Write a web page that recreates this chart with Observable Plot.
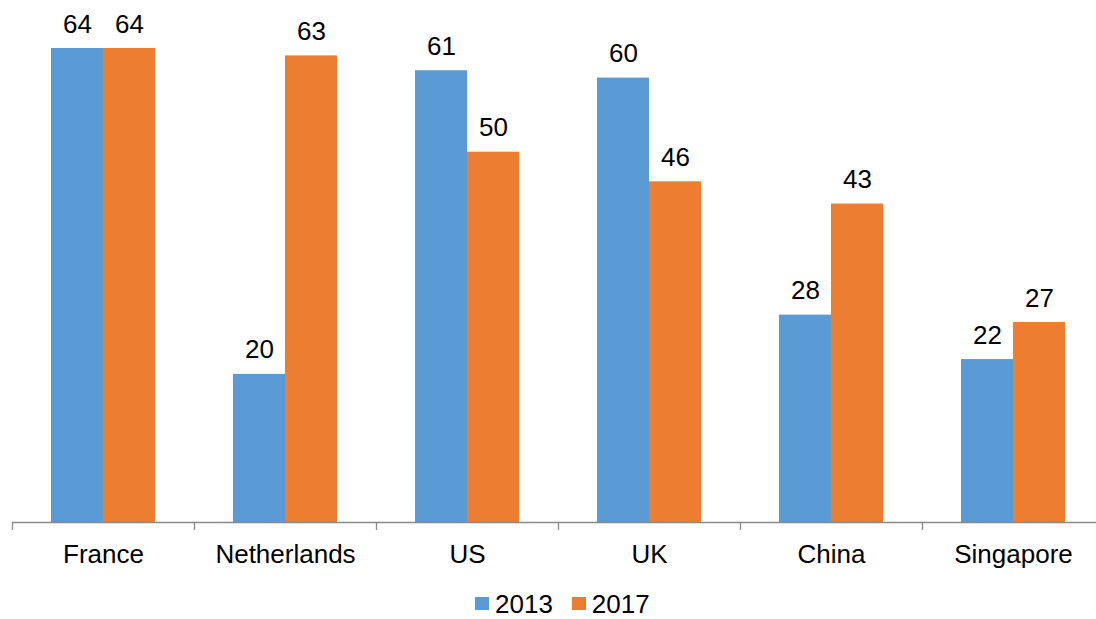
<!DOCTYPE html>
<html>
<head>
<meta charset="utf-8">
<script src="https://cdn.jsdelivr.net/npm/d3@7"></script>
<script src="https://cdn.jsdelivr.net/npm/@observablehq/plot@0.6"></script>
<style>
  html, body { margin: 0; padding: 0; background: #fff; overflow: hidden; }
  body { font-family: "Liberation Sans", Arial, sans-serif; }
  #legend { height: 39px; box-sizing: border-box; padding-top: 12.5px; padding-left: 475px;
            font-size: 26px; line-height: 22px; color: #000; white-space: nowrap; }
  .sw { display: inline-block; width: 14px; height: 13px; position: relative; top: -3px; margin-right: 6px; }
  .item { margin-right: 19px; }
</style>
</head>
<body>
<div id="chart"></div>
<div id="legend"></div>
<script>
const categories = ["France", "Netherlands", "US", "UK", "China", "Singapore"];
const series = ["2013", "2017"];
const values2013 = [64, 20, 61, 60, 28, 22];
const values2017 = [64, 63, 50, 46, 43, 27];
const colors = ["#5B9BD5", "#ED7D31"];

const d2013 = categories.map((c, i) => ({country: c, value: values2013[i]}));
const d2017 = categories.map((c, i) => ({country: c, value: values2017[i]}));

const font = "Liberation Sans, Arial, sans-serif";
const axisGray = "#898989";

const chart = Plot.plot({
  width: 1096,
  height: 580,
  marginLeft: 12,
  marginRight: 0,
  marginTop: 48,
  marginBottom: 58,
  style: {fontFamily: font, fontSize: "26px", color: "#000", background: "#fff", overflow: "visible"},
  x: {domain: categories, range: [12, 1104], padding: 0, axis: null},
  y: {domain: [0, 64], range: [522, 48], axis: null},
  marks: [
    Plot.barY(d2013, {x: "country", y: "value", fill: colors[0], insetLeft: 39, insetRight: 91}),
    Plot.barY(d2017, {x: "country", y: "value", fill: colors[1], insetLeft: 91, insetRight: 39}),
    Plot.text(d2013, {x: "country", y: "value", text: d => String(d.value), dx: -26, dy: -16, lineAnchor: "bottom", fontSize: 26, fill: "#000"}),
    Plot.text(d2017, {x: "country", y: "value", text: d => String(d.value), dx: 26, dy: -16, lineAnchor: "bottom", fontSize: 26, fill: "#000"}),
    Plot.ruleY([0], {stroke: axisGray, strokeWidth: 1.3}),
    Plot.ruleX(categories, {x: d => d, dx: -91, y1: 0, y2: -8 / 7.406, stroke: axisGray, strokeWidth: 1.3}),
    Plot.axisX({anchor: "bottom", tickSize: 0, tickPadding: 22.5, fontSize: 26, fill: "#000", label: null})
  ]
});
document.getElementById("chart").appendChild(chart);

const legend = document.getElementById("legend");
series.forEach((s, i) => {
  const item = document.createElement("span");
  item.className = "item";
  const sw = document.createElement("span");
  sw.className = "sw";
  sw.style.background = colors[i];
  item.appendChild(sw);
  item.appendChild(document.createTextNode(s));
  legend.appendChild(item);
});
</script>
</body>
</html>
